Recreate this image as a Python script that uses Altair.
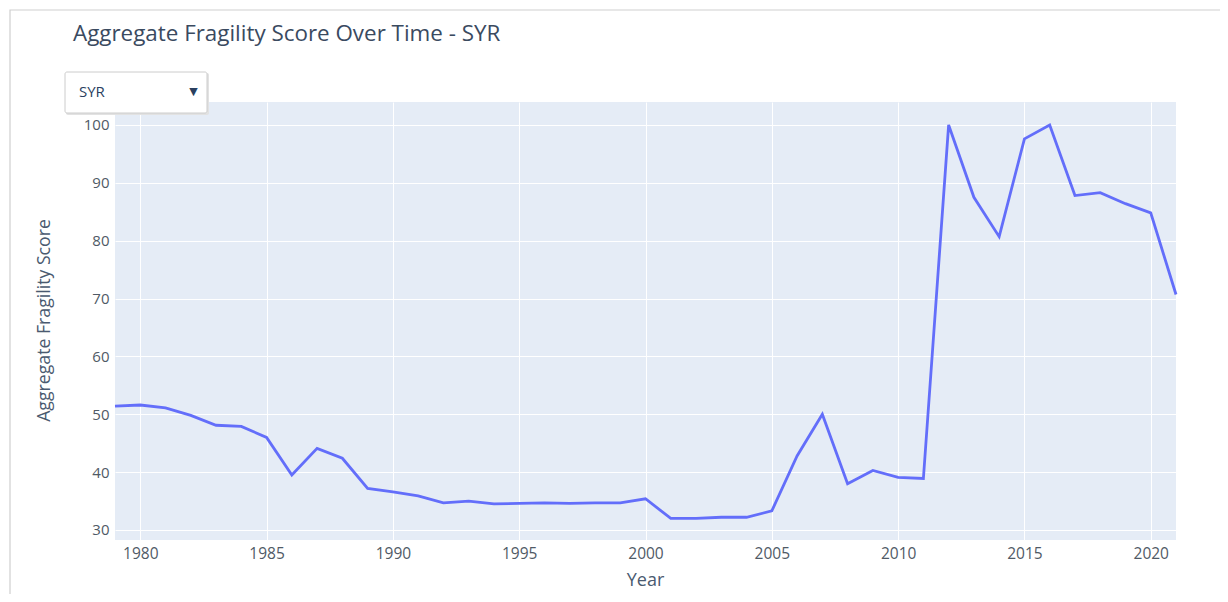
import altair as alt
import pandas as pd

years = list(range(1979, 2022))
scores = [51.4, 51.6, 51.1, 49.8, 48.1, 47.9, 46.0, 39.5, 44.1, 42.4,
          37.2, 36.6, 35.9, 34.7, 35.0, 34.5, 34.6, 34.7, 34.6, 34.7,
          34.7, 35.4, 32.0, 32.0, 32.2, 32.2, 33.3, 42.8, 50.0, 38.0,
          40.3, 39.1, 38.9, 100.0, 87.5, 80.7, 97.6, 100.0, 87.8, 88.3,
          86.4, 84.8, 70.7]
x_ticks = [1980, 1985, 1990, 1995, 2000, 2005, 2010, 2015, 2020]
y_ticks = [30, 40, 50, 60, 70, 80, 90, 100]
title_text = "Aggregate Fragility Score Over Time - SYR"
country = "SYR"

df = pd.DataFrame({"Year": years, "Score": scores})
one = pd.DataFrame({"k": [0]})

FONT = "Open Sans"
W, H = 1061, 438

line = alt.Chart(df).mark_line(color="#636efa", strokeWidth=2.8).encode(
    x=alt.X("Year:Q",
            scale=alt.Scale(domain=[1979, 2021], nice=False, zero=False),
            axis=alt.Axis(values=x_ticks, format="d", title="Year",
                          titleX=530, titleY=45, titleAlign="center",
                          titleBaseline="alphabetic", titleFontSize=18,
                          titleFontWeight="normal", titleColor="#4a5a70",
                          labelFontSize=15.5, labelColor="#505a66",
                          labelPadding=6, ticks=False, domain=False,
                          gridColor="white", gridWidth=1)),
    y=alt.Y("Score:Q",
            scale=alt.Scale(domain=[28.27, 103.97], nice=False, zero=False),
            axis=alt.Axis(values=y_ticks, title="Aggregate Fragility Score",
                          titleX=-71, titleY=218, titleAngle=-90,
                          titleAlign="center", titleBaseline="middle",
                          titleFontSize=17.7, titleFontWeight="normal",
                          titleColor="#4a5a70",
                          labelFontSize=15, labelColor="#505a66",
                          labelPadding=6, ticks=False, domain=False,
                          gridColor="white", gridWidth=1)),
)

border = alt.Chart(one).mark_rect(fill="transparent", stroke="#cfcfcf",
                                  strokeWidth=1.2).encode(
    x=alt.value(-105), x2=alt.value(1140),
    y=alt.value(-92), y2=alt.value(560))

title = alt.Chart(one).mark_text(
    text=title_text, font=FONT, fontSize=22.4, color="#3a4a5f",
    align="left", baseline="alphabetic").encode(
    x=alt.value(-42), y=alt.value(-61))

shadow = alt.Chart(one).mark_rect(fill="#e2e2e2", cornerRadius=2).encode(
    x=alt.value(-49), x2=alt.value(94), y=alt.value(-29), y2=alt.value(13))
box = alt.Chart(one).mark_rect(fill="white", stroke="#cccccc", strokeWidth=1,
                               cornerRadius=2).encode(
    x=alt.value(-50), x2=alt.value(92), y=alt.value(-30), y2=alt.value(11))
box_text = alt.Chart(one).mark_text(
    text=country, font=FONT, fontSize=15, color="#2a3f5f",
    align="left", baseline="middle").encode(
    x=alt.value(-36), y=alt.value(-10))
arrow = alt.Chart(one).mark_text(
    text="▼", font="DejaVu Sans", fontSize=11, color="#2a3f5f",
    align="center", baseline="middle").encode(
    x=alt.value(78.5), y=alt.value(-10.5))

chart = alt.layer(border, line, title, shadow, box, box_text, arrow).properties(
    width=W, height=H,
    padding={"left": 107, "top": 94, "right": 44, "bottom": 54},
    autosize=alt.AutoSizeParams(type="none"),
    background="white",
).configure(
    font=FONT,
    view=alt.ViewConfig(fill="#e5ecf6", stroke="transparent", strokeWidth=0),
)

chart.save("out.html", embed_options={"renderer": "svg", "actions": False})
